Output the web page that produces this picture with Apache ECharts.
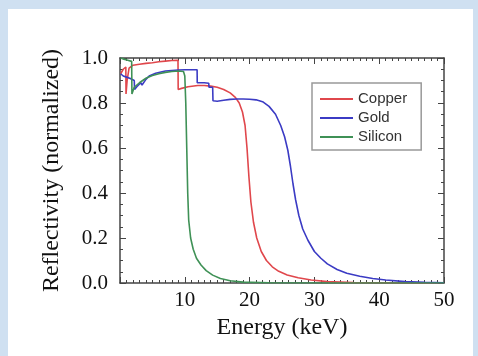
<!DOCTYPE html>
<html>
<head>
<meta charset="utf-8">
<script src="https://cdn.jsdelivr.net/npm/echarts@6/dist/echarts.min.js"></script>
<style>
html,body{margin:0;padding:0;}
body{width:478px;height:356px;background:#cfe0f1;position:relative;overflow:hidden;}
#panel{position:absolute;left:8px;top:9px;width:465px;height:347px;background:#fff;}
#chart{position:absolute;left:0;top:0;width:478px;height:356px;}
</style>
</head>
<body>
<div id="panel"></div>
<div id="chart"></div>
<script>
// Data (energy keV, normalized reflectivity)
const seriesNames = ['Copper', 'Gold', 'Silicon'];
const xTickLabels = [10, 20, 30, 40, 50];
const yTickLabels = [0.0, 0.2, 0.4, 0.6, 0.8, 1.0];

const copper = [[0.1,0.93],[0.5,0.95],[0.9,0.96],[0.93,0.84],[1.1,0.9],[1.4,0.955],[2,0.968],[3,0.972],[4,0.976],[5,0.979],[6,0.983],[7,0.986],[8,0.989],[8.95,0.99],[8.98,0.86],[9.5,0.865],[10.5,0.872],[12,0.878],[13,0.878],[14,0.875],[15,0.87],[16,0.86],[17,0.845],[17.8,0.825],[18.4,0.8],[18.9,0.76],[19.3,0.7],[19.6,0.6],[19.9,0.47],[20.2,0.36],[20.6,0.27],[21.1,0.2],[21.8,0.14],[22.6,0.1],[23.5,0.072],[24.5,0.052],[25.8,0.036],[27.5,0.023],[29.5,0.013],[32,0.006],[36,0.002],[42,0.001],[50,0]];

const gold = [[0.1,0.93],[0.5,0.92],[1,0.915],[1.5,0.91],[2.2,0.9],[2.25,0.86],[2.6,0.872],[3.2,0.89],[3.4,0.88],[4,0.905],[4.5,0.92],[5.5,0.932],[7,0.942],[9,0.947],[10,0.948],[11.9,0.948],[11.92,0.89],[13,0.89],[13.7,0.888],[13.73,0.87],[14.3,0.87],[14.35,0.81],[15,0.808],[16,0.812],[17,0.816],[18,0.818],[19,0.818],[20,0.817],[21,0.814],[22,0.806],[23,0.785],[24,0.75],[24.8,0.7],[25.4,0.65],[25.9,0.59],[26.3,0.52],[26.7,0.44],[27.1,0.37],[27.6,0.3],[28.2,0.24],[29,0.19],[30,0.14],[31,0.11],[32,0.085],[33.5,0.06],[35,0.043],[37,0.03],[39,0.02],[41,0.013],[44,0.006],[47,0.003],[50,0.001]];

const silicon = [[0.1,1.0],[0.6,0.995],[1.2,0.99],[1.8,0.985],[1.84,0.84],[2.2,0.87],[3,0.89],[4,0.91],[5,0.922],[6,0.93],[7,0.936],[8,0.94],[9,0.942],[9.8,0.94],[10.0,0.92],[10.15,0.8],[10.3,0.6],[10.45,0.4],[10.6,0.28],[10.9,0.2],[11.3,0.15],[11.8,0.11],[12.5,0.08],[13.3,0.055],[14.3,0.035],[15.5,0.02],[17,0.01],[19,0.004],[23,0.001],[50,0]];

const colors = ['#e0474c', '#3b3bc4', '#3f9156'];
const dataSets = [copper, gold, silicon];

const chart = echarts.init(document.getElementById('chart'), null, {renderer: 'canvas'});
const axisColor = '#444';
const serif = "'Liberation Serif', 'Times New Roman', serif";

function xAxisBase(pos, labels) {
  return {
    type: 'value', position: pos, min: 0, max: 50, interval: 10,
    axisLine: {show: true, onZero: false, lineStyle: {color: axisColor, width: 1.5}},
    axisTick: {show: true, inside: true, length: 6, lineStyle: {color: axisColor}},
    minorTick: {show: true, splitNumber: 10, length: 3, lineStyle: {color: axisColor}},
    splitLine: {show: false},
    axisLabel: labels ? {
      show: true, margin: 7, color: '#111', fontSize: 21, fontFamily: serif,
      formatter: v => (xTickLabels.indexOf(v) >= 0 ? String(v) : '')
    } : {show: false}
  };
}
function yAxisBase(pos, labels) {
  return {
    type: 'value', position: pos, min: 0, max: 1, interval: 0.2,
    axisLine: {show: true, onZero: false, lineStyle: {color: axisColor, width: 1.5}},
    axisTick: {show: true, inside: true, length: 6, lineStyle: {color: axisColor}},
    minorTick: {show: true, splitNumber: 4, length: 3, lineStyle: {color: axisColor}},
    splitLine: {show: false},
    axisLabel: labels ? {
      show: true, margin: 12, color: '#111', fontSize: 21, fontFamily: serif,
      formatter: v => yTickLabels.find(t => Math.abs(t - v) < 1e-9).toFixed(1)
    } : {show: false}
  };
}

const xb = xAxisBase('bottom', true);
xb.name = 'Energy (keV)';
xb.nameLocation = 'middle';
xb.nameGap = 30;
xb.nameTextStyle = {fontFamily: serif, fontSize: 24, color: '#111'};
const yl = yAxisBase('left', true);
yl.name = 'Reflectivity (normalized)';
yl.nameLocation = 'middle';
yl.nameGap = 56;
yl.nameTextStyle = {fontFamily: serif, fontSize: 24, color: '#111'};

chart.setOption({
  animation: false,
  backgroundColor: 'transparent',
  color: colors,
  grid: {left: 120, right: 34, top: 58, bottom: 73, containLabel: false},
  xAxis: [xb, xAxisBase('top', false)],
  yAxis: [yl, yAxisBase('right', false)],
  legend: {
    orient: 'vertical', left: 312, top: 83,
    padding: [8, 14, 5, 8], itemGap: 3, itemWidth: 33, itemHeight: 2,
    icon: 'rect',
    backgroundColor: '#fff', borderColor: '#999', borderWidth: 1.5, borderRadius: 0,
    textStyle: {fontFamily: "'Liberation Sans', Arial, sans-serif", fontSize: 15, color: '#333', lineHeight: 16, padding: [0, 0, 0, 0]},
    data: seriesNames
  },
  series: seriesNames.map((n, i) => ({
    name: n, type: 'line', data: dataSets[i], showSymbol: false, symbol: 'none',
    lineStyle: {width: 1.6, color: colors[i]}, itemStyle: {color: colors[i]},
    xAxisIndex: 0, yAxisIndex: 0, clip: true
  }))
});
</script>
</body>
</html>
